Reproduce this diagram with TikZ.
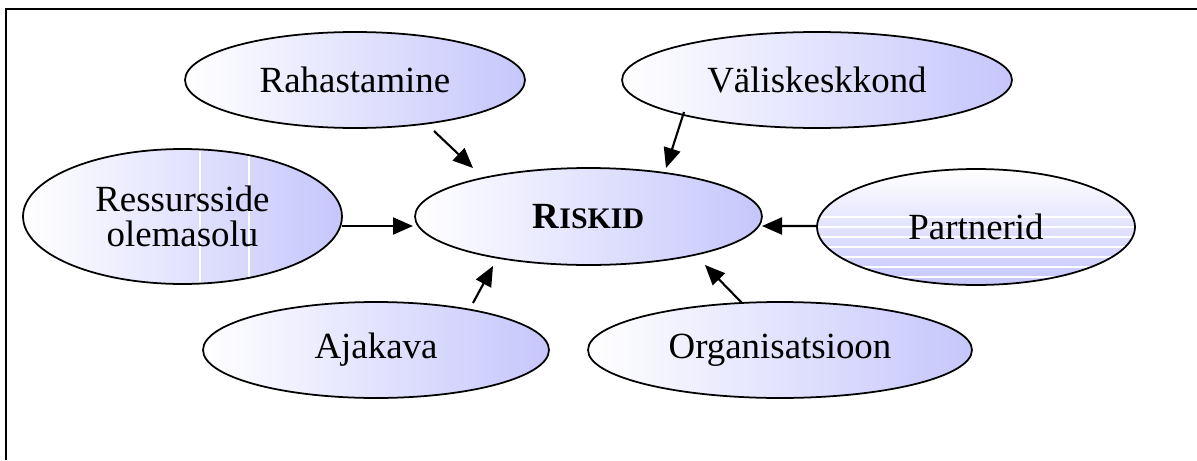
\documentclass[tikz,border=0pt]{standalone}
\usepackage{fontspec}
\setmainfont{Liberation Serif}
\usetikzlibrary{shapes.geometric,arrows.meta,calc}
\definecolor{lav}{RGB}{198,198,252}
\tikzset{
  ovalbase/.style={ellipse, draw=black, line width=1pt, inner sep=0pt, outer sep=0pt,
    text=black, font=\fontsize{21}{19.5}\selectfont, align=center},
  oval/.style={ovalbase, left color=white, right color=lav},
  ovalv/.style={ovalbase, top color=white, bottom color=lav},
  arr/.style={line width=1.2pt, -{Triangle[length=0.4cm,width=0.34cm]}},
  frameline/.style={line width=1.2pt, black}
}
\begin{document}
\begin{tikzpicture}[x=0.02cm,y=-0.02cm]
\useasboundingbox (0,0) rectangle (1197,460);
\draw[frameline] (6,460) -- (6,9) -- (1197,9);

\node[oval, minimum width=6.8cm, minimum height=1.92cm] (rah) at (355,80) {Rahastamine};
\node[oval, minimum width=7.8cm, minimum height=1.92cm] (val) at (817,80) {Väliskeskkond};
\node[oval, minimum width=6.38cm, minimum height=2.7cm,
  path picture={
    \draw[white, line width=0.6pt] ([xshift=0.35cm]path picture bounding box.south) -- ([xshift=0.35cm]path picture bounding box.north);
    \draw[white, line width=0.6pt] ([xshift=1.33cm]path picture bounding box.south) -- ([xshift=1.33cm]path picture bounding box.north);
  }] (res) at (182.5,216.5) {Ressursside\\olemasolu};
\node[oval, minimum width=6.94cm, minimum height=1.94cm,
  font=\fontsize{21}{24}\selectfont\bfseries] (risk) at (588.5,216.5) {R{\fontsize{17}{20}\selectfont ISKID}};
\node[ovalv, minimum width=6.36cm, minimum height=2.32cm,
  path picture={
    \foreach \k in {-1,0,...,5}
      \draw[white, line width=0.6pt] ([yshift=-\k*0.2cm]path picture bounding box.west) -- ([yshift=-\k*0.2cm]path picture bounding box.east);
  }] (par) at (976,227) {Partnerid};
\node[oval, minimum width=6.92cm, minimum height=1.92cm] (aja) at (376,350) {Ajakava};
\node[oval, minimum width=7.68cm, minimum height=1.92cm] (org) at (780,350) {Organisatsioon};

\draw[arr] ($(rah)+(79,51)$) -- ($(risk)+(-115.5,-48.5)$);
\draw[arr] ($(val)+(-133,32)$) -- ($(risk)+(77.5,-48.5)$);
\draw[arr] ($(res)+(159.5,9.5)$) -- ($(risk)+(-175.5,9.5)$);
\draw[arr] ($(par)+(-159,-1)$) -- ($(risk)+(173.5,9.5)$);
\draw[arr] ($(aja)+(97,-47)$) -- ($(risk)+(-95.5,49.5)$);
\draw[arr] ($(org)+(-38,-47)$) -- ($(risk)+(116.5,48.5)$);
\end{tikzpicture}
\end{document}
